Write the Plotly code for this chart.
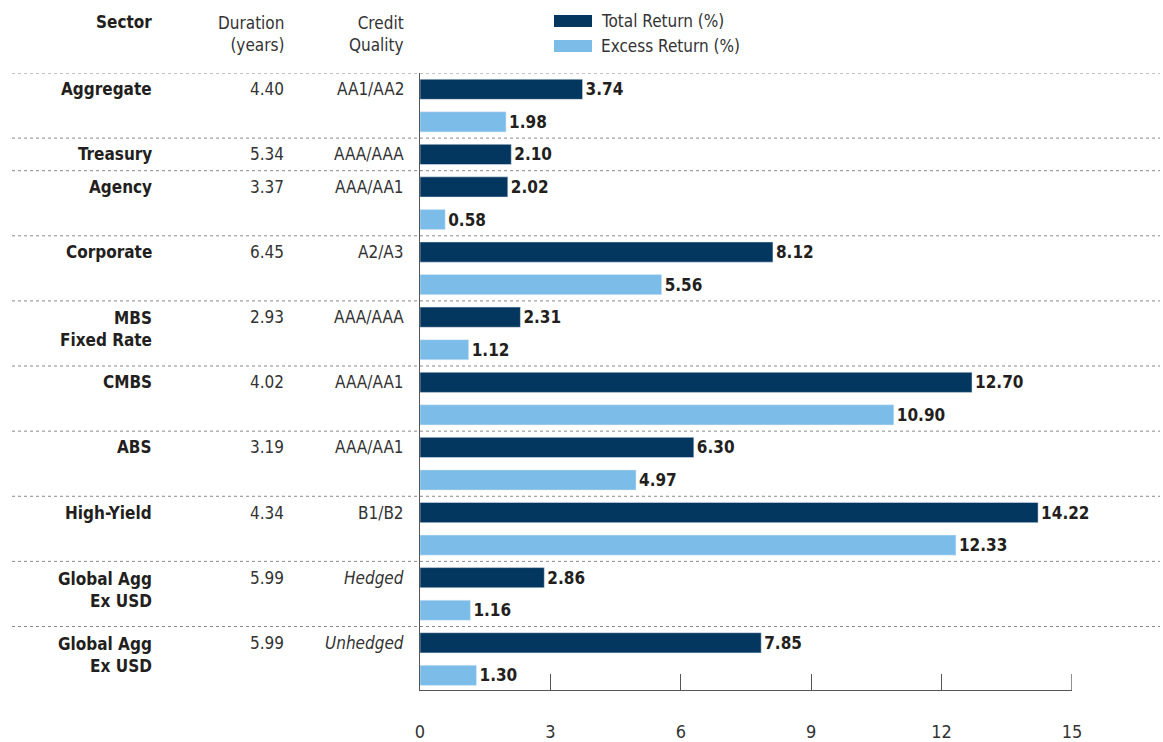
import plotly.graph_objects as go

# ---- data ----
sectors = ["Aggregate", "Treasury", "Agency", "Corporate", "MBS<br>Fixed Rate", "CMBS", "ABS",
           "High-Yield", "Global Agg<br>Ex USD", "Global Agg<br>Ex USD"]
durations = ["4.40", "5.34", "3.37", "6.45", "2.93", "4.02", "3.19", "4.34", "5.99", "5.99"]
credit = ["AA1/AA2", "AAA/AAA", "AAA/AA1", "A2/A3", "AAA/AAA", "AAA/AA1", "AAA/AA1", "B1/B2",
          "<i>Hedged</i>", "<i>Unhedged</i>"]
total_return = [3.74, 2.10, 2.02, 8.12, 2.31, 12.70, 6.30, 14.22, 2.86, 7.85]
excess_return = [1.98, None, 0.58, 5.56, 1.12, 10.90, 4.97, 12.33, 1.16, 1.30]
x_ticks = [0, 3, 6, 9, 12, 15]

NAVY = "#04375F"
LIGHT = "#7BBDE8"
FONT = "Liberation Sans Narrow, DejaVu Sans Condensed, Arial Narrow, sans-serif"
TXT = "#231F20"
FS = 17
AXC = "#555555"

# slot positions (one slot per bar)
tot_y, exc_y, exc_x, row_top = [], [], [], []
slot = 0
for t, e in zip(total_return, excess_return):
    row_top.append(slot)
    tot_y.append(slot)
    slot += 1
    if e is not None:
        exc_y.append(slot)
        exc_x.append(e)
        slot += 1
n_slots = slot

W, H = 1163, 742
ML, MR, MT, MB = 420, 91, 73, 52
PW, PH = W - ML - MR, H - MT - MB

def px_x(p):
    return (p - ML) / PW

def px_y(p):
    return (H - MB - p) / PH

fig = go.Figure()
fig.add_trace(go.Bar(x=total_return, y=tot_y, orientation="h", marker_color=NAVY,
                     width=0.62, texttemplate="<b>%{x:.2f}</b>", textposition="outside",
                     textfont=dict(family=FONT, size=FS, color=TXT), cliponaxis=False,
                     name="Total Return (%)", hoverinfo="x"))
fig.add_trace(go.Bar(x=exc_x, y=exc_y, orientation="h", marker_color=LIGHT,
                     width=0.62, texttemplate="<b>%{x:.2f}</b>", textposition="outside",
                     textfont=dict(family=FONT, size=FS, color=TXT), cliponaxis=False,
                     name="Excess Return (%)", hoverinfo="x"))

shapes = []
# separators
seps = [r - 0.5 for r in row_top]
for s in seps:
    shapes.append(dict(type="line", xref="paper", yref="y", x0=px_x(12), x1=px_x(1160),
                       y0=s, y1=s, line=dict(color="#8A8A8A", width=1, dash="dot"), layer="below"))

# tick at the right end of the axis (plotly hides inside ticks at the edge)
shapes.append(dict(type="line", xref="x", yref="paper", x0=x_ticks[-1], x1=x_ticks[-1],
                   y0=0, y1=16 / PH, line=dict(color=AXC, width=1.3)))

annotations = []
for i, r in enumerate(row_top):
    two = "<br>" in sectors[i]
    ys = -12 if two else 0
    annotations.append(dict(x=px_x(154), y=r, xref="paper", yref="y", xanchor="right",
                            yanchor="middle", yshift=ys, text="<b>" + sectors[i] + "</b>",
                            showarrow=False, align="right",
                            font=dict(family=FONT, size=FS, color=TXT)))
    annotations.append(dict(x=px_x(286), y=r, xref="paper", yref="y", xanchor="right",
                            yanchor="middle", text=durations[i], showarrow=False,
                            font=dict(family=FONT, size=FS, color="#333333")))
    annotations.append(dict(x=px_x(406), y=r, xref="paper", yref="y", xanchor="right",
                            yanchor="middle", text=credit[i], showarrow=False,
                            font=dict(family=FONT, size=FS, color="#333333")))

# headers
annotations.append(dict(x=px_x(154), y=px_y(22), xref="paper", yref="paper", xanchor="right",
                        yanchor="middle", text="<b>Sector</b>", showarrow=False,
                        font=dict(family=FONT, size=FS, color=TXT)))
annotations.append(dict(x=px_x(286), y=px_y(34), xref="paper", yref="paper", xanchor="right",
                        yanchor="middle", text="Duration<br>(years)", showarrow=False, align="right",
                        font=dict(family=FONT, size=FS, color="#333333")))
annotations.append(dict(x=px_x(406), y=px_y(34), xref="paper", yref="paper", xanchor="right",
                        yanchor="middle", text="Credit<br>Quality", showarrow=False, align="right",
                        font=dict(family=FONT, size=FS, color="#333333")))

# legend
for (label, col, yc) in [("Total Return (%)", NAVY, 21), ("Excess Return (%)", LIGHT, 46)]:
    shapes.append(dict(type="rect", xref="paper", yref="paper", x0=px_x(554), x1=px_x(592),
                       y0=px_y(yc - 6), y1=px_y(yc + 6), fillcolor=col, line=dict(width=0)))
    annotations.append(dict(x=px_x(599), y=px_y(yc), xref="paper", yref="paper", xanchor="left",
                            yanchor="middle", text=label, showarrow=False,
                            font=dict(family=FONT, size=FS, color="#333333")))

fig.update_layout(
    width=W, height=H,
    margin=dict(l=ML, r=MR, t=MT, b=MB, autoexpand=False),
    paper_bgcolor="white", plot_bgcolor="white",
    showlegend=False, barmode="overlay",
    shapes=shapes, annotations=annotations,
    xaxis=dict(range=[0, 15], tickvals=x_ticks, ticks="inside", ticklen=16, tickwidth=1.3,
               tickcolor=AXC, showline=True, linecolor=AXC, linewidth=1.3,
               showgrid=False, zeroline=False, ticklabelstandoff=25, automargin=False,
               tickfont=dict(family=FONT, size=18, color="#333333")),
    yaxis=dict(range=[n_slots - 0.55, -0.5], showticklabels=False, showgrid=False,
               zeroline=False, showline=True, linecolor=AXC, linewidth=1.3, ticks="",
               automargin=False),
)

fig.write_html("out.html")
